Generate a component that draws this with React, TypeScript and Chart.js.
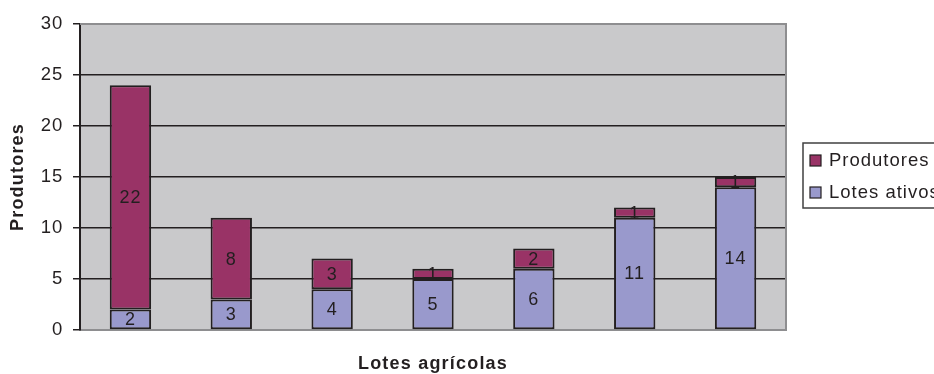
import React, { useEffect, useRef } from "react";
import { Chart, registerables } from "chart.js";

Chart.register(...registerables);

const categories = ["", "", "", "", "", "", ""];
const lotesAtivos = [2, 3, 4, 5, 6, 11, 14];
const produtores = [22, 8, 3, 1, 2, 1, 1];
const yTicks = [0, 5, 10, 15, 20, 25, 30];
const xTitle = "Lotes agrícolas";
const yTitle = "Produtores";
const seriesNames = ["Produtores", "Lotes ativos"];

const TEXT = "#231F20";
const MAROON = "#993366";
const LAVENDER = "#9999CC";
const PLOT_BG = "#C9C9CB";
const GREY = "#8E8E90";
const FONT = "'Liberation Sans', Arial, sans-serif";

export default function App() {
  const ref = useRef<HTMLCanvasElement | null>(null);

  useEffect(() => {
    document.body.style.margin = "0";
    const canvas = ref.current;
    if (!canvas) return;

    const bgPlugin = {
      id: "bgPlugin",
      beforeDraw(chart: any) {
        const { ctx, chartArea: a } = chart;
        ctx.save();
        ctx.fillStyle = "#ffffff";
        ctx.fillRect(0, 0, chart.width, chart.height);
        ctx.fillStyle = PLOT_BG;
        ctx.fillRect(a.left, a.top, a.right - a.left, a.bottom - a.top);
        ctx.restore();
        (ctx as any).letterSpacing = "0.8px";
      },
      beforeDatasetsDraw(chart: any) {
        const { ctx, chartArea: a } = chart;
        ctx.save();
        ctx.strokeStyle = GREY;
        ctx.lineWidth = 2;
        ctx.beginPath();
        ctx.moveTo(a.left, a.top);
        ctx.lineTo(a.right, a.top);
        ctx.lineTo(a.right, a.bottom);
        ctx.stroke();
        ctx.restore();
      },
    };

    const labelPlugin = {
      id: "labelPlugin",
      afterDatasetsDraw(chart: any) {
        const { ctx } = chart;
        ctx.save();
        (ctx as any).letterSpacing = "1px";
        ctx.font = `18px ${FONT}`;
        ctx.fillStyle = TEXT;
        ctx.textAlign = "center";
        ctx.textBaseline = "middle";
        chart.data.datasets.forEach((ds: any, di: number) => {
          const meta = chart.getDatasetMeta(di);
          meta.data.forEach((el: any, i: number) => {
            const v = ds.data[i];
            const cy = (el.y + el.base) / 2;
            ctx.fillText(String(v), el.x, cy + 1);
          });
        });
        ctx.restore();
      },
      afterDraw(chart: any) {
        const { ctx, chartArea: a } = chart;
        ctx.save();
        (ctx as any).letterSpacing = "1.2px";
        ctx.fillStyle = TEXT;
        ctx.font = `bold 18px ${FONT}`;
        ctx.textAlign = "center";
        ctx.textBaseline = "middle";
        ctx.fillText(xTitle, (a.left + a.right) / 2, 364);
        ctx.save();
        ctx.translate(18, (a.top + a.bottom) / 2);
        ctx.rotate(-Math.PI / 2);
        ctx.fillText(yTitle, 0, 0);
        ctx.restore();

        // legend
        (ctx as any).letterSpacing = "1px";
        ctx.strokeStyle = "#404040";
        ctx.lineWidth = 1.5;
        ctx.strokeRect(803, 143, 160, 65);
        const colors = [MAROON, LAVENDER];
        const ys = [161, 193];
        ctx.font = `18.5px ${FONT}`;
        ctx.textAlign = "left";
        seriesNames.forEach((name, i) => {
          ctx.fillStyle = colors[i];
          ctx.fillRect(810, ys[i] - 6, 11, 11);
          ctx.strokeStyle = TEXT;
          ctx.lineWidth = 1.2;
          ctx.strokeRect(810, ys[i] - 6, 11, 11);
          ctx.fillStyle = TEXT;
          ctx.fillText(name, 829, ys[i]);
        });
        ctx.restore();
      },
    };

    const chart = new Chart(canvas, {
      type: "bar",
      data: {
        labels: categories,
        datasets: [
          {
            label: seriesNames[1],
            data: lotesAtivos,
            backgroundColor: LAVENDER,
            borderColor: TEXT,
            borderWidth: 2,
            borderSkipped: false,
          },
          {
            label: seriesNames[0],
            data: produtores,
            backgroundColor: MAROON,
            borderColor: TEXT,
            borderWidth: 2,
            borderSkipped: false,
          },
        ],
      },
      options: {
        responsive: false,
        animation: false,
        devicePixelRatio: 1,
        layout: { padding: { top: 24, right: 148, bottom: 0, left: 0 } },
        datasets: { bar: { categoryPercentage: 1, barPercentage: 0.41 } },
        plugins: {
          legend: { display: false },
          tooltip: { enabled: false },
          title: { display: false },
        },
        scales: {
          x: {
            stacked: true,
            ticks: { display: false },
            grid: { display: false },
            border: { color: GREY, width: 2 },
            afterFit(scale: any) {
              scale.height = 44;
            },
          },
          y: {
            stacked: true,
            min: 0,
            max: 30,
            afterBuildTicks(scale: any) {
              scale.ticks = yTicks.map((v) => ({ value: v }));
            },
            ticks: {
              stepSize: 5,
              padding: 10,
              color: TEXT,
              font: { family: FONT, size: 18.5 },
            },
            grid: {
              color: (c: any) =>
                c.tick && (c.tick.value === 0 || c.tick.value === 30)
                  ? "rgba(0,0,0,0)"
                  : TEXT,
              lineWidth: 1.5,
              tickColor: TEXT,
              tickLength: 7,
              tickWidth: 1.5,
            },
            border: { color: TEXT, width: 2 },
            afterFit(scale: any) {
              scale.width = 80;
            },
          },
        },
      },
      plugins: [bgPlugin, labelPlugin],
    });

    return () => chart.destroy();
  }, []);

  return (
    <div style={{ width: 934, height: 374 }}>
      <canvas ref={ref} width={934} height={374} style={{ display: "block", width: 934, height: 374 }} />
    </div>
  );
}
